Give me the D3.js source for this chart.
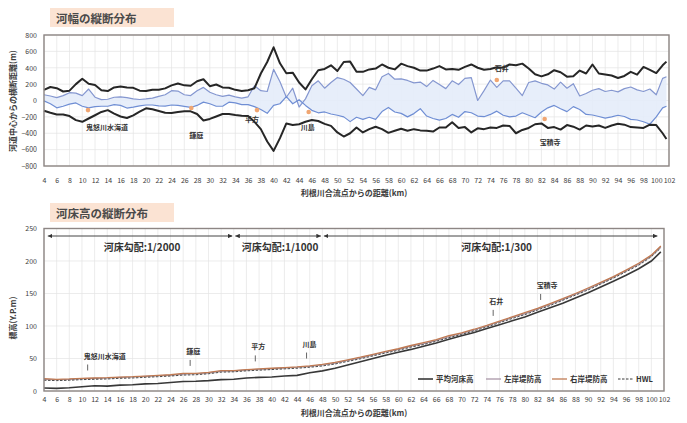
<!DOCTYPE html>
<html>
<head>
<meta charset="utf-8">
<script src="https://cdn.jsdelivr.net/npm/d3@7"></script>
<style>
  body { margin: 0; background: #fff; }
  svg { display: block; }
</style>
</head>
<body>
<svg id="chart" width="687" height="423"></svg>
<script>
// ---------- 河幅の縦断分布 (distance from channel centre, m) ----------
const widthKm = [4,5,6,7,8,9,10,11,12,13,14,15,16,17,18,19,20,21,22,23,24,25,26,27,28,29,30,31,32,33,
  34,35,36,37,38,39,40,41,42,43,44,45,46,47,48,49,50,51,52,53,54,55,56,57,58,59,60,61,62,63,
  64,65,66,67,68,69,70,71,72,73,74,75,76,77,78,79,80,81,82,83,84,85,86,87,88,89,90,91,92,93,
  94,95,96,97,98,99,100,101,101.6];

// outer bank lines (black)
const bankUpper = [130,165,150,110,120,200,265,205,190,125,
  115,160,170,160,155,120,115,132,132,148,
  185,208,185,180,235,260,175,195,160,155,
  130,115,125,150,330,470,650,454,332,340,
  220,135,260,370,385,430,360,470,475,350,
  350,380,390,440,400,380,450,420,400,365,
  365,390,420,380,385,375,410,440,400,375,
  385,405,400,440,430,450,390,320,295,320,
  370,345,291,295,365,330,440,330,318,305,
  275,300,350,315,410,375,335,430,475];
const bankLower = [-125,-150,-170,-170,-190,-240,-260,-220,-180,-140,
  -118,-160,-195,-214,-181,-135,-95,-108,-128,-150,
  -153,-140,-132,-132,-165,-245,-225,-195,-165,-165,
  -178,-185,-190,-260,-350,-500,-615,-460,-280,-300,
  -290,-260,-238,-250,-285,-310,-390,-440,-400,-330,
  -390,-350,-320,-350,-395,-370,-345,-370,-350,-365,
  -370,-380,-330,-330,-265,-335,-325,-390,-340,-350,
  -330,-335,-305,-310,-400,-360,-335,-290,-280,-335,
  -325,-355,-300,-320,-355,-305,-318,-305,-335,-305,
  -285,-295,-325,-330,-335,-295,-300,-400,-470];

// low-water channel lines (blue)
const channelUpper = [70,55,35,60,95,90,60,140,40,10,
  15,40,45,35,20,12,20,30,50,70,
  120,115,70,60,120,160,100,70,50,65,
  45,30,45,180,120,110,380,230,40,150,
  -80,20,180,240,150,220,280,260,220,140,
  60,160,130,290,330,260,265,245,215,225,
  170,245,195,145,240,195,270,280,0,120,
  250,160,240,240,150,60,220,240,210,190,
  140,225,150,205,55,85,125,145,110,125,
  105,145,165,130,110,140,70,270,290];
const channelLower = [-5,-40,-90,-70,-45,-30,-70,-90,-75,-70,
  -70,-50,-60,-92,-80,-65,-55,-55,-65,-68,
  -55,-60,-72,-85,-60,-20,-40,-70,-70,-20,
  -30,-50,-50,-75,-110,-157,-60,-40,47,-40,
  10,-60,-120,-150,-140,-165,-180,-200,-258,-205,
  -230,-205,-230,-135,-85,-140,-157,-200,-160,-100,
  -190,-220,-240,-220,-170,-205,-135,-150,-190,-198,
  -170,-130,-180,-200,-190,-150,-180,-210,-140,-90,
  -60,-100,-136,-75,-110,-170,-177,-195,-215,-200,
  -180,-195,-230,-238,-260,-290,-200,-90,-70];

// ---------- 河床高の縦断分布 (Y.P. m) ----------
const elevKm = [4,6,8,10,12,14,16,18,20,22,24,26,28,30,32,34,36,38,40,42,
  44,46,48,50,52,54,56,58,60,62,64,66,68,70,72,74,76,78,80,82,
  84,86,88,90,92,94,96,98,100,101.5];
const bedElev = [4.5,4,5,6.5,8,7.5,9,9.5,11,11.5,
  13,14.5,15,16,17.5,18,20,21,21.5,23,
  24,28,31,35,40,45,50,55,59.5,64,
  69,74,79.5,85,90,96,102,108,114,121,
  128,135,143,151,160,169,178,188,200,214];
const leftLevee = [18,17.5,18,19,19.5,20,21,21.5,22.5,23.5,
  24.5,26,26.5,28,30.5,31,32.5,33.5,34.5,35.5,
  36.5,38,40,43,47,51,55.5,60,64,69,
  73,78,83.5,88.5,94,100,106.5,113,119,126,
  133,141,149,157,166,175,185,195,208,222];
const rightLevee = [19,18,18.5,19.5,20,20.5,21.5,22,23,24,
  25,27,27,28.5,31.5,31.5,33,34,35,36,
  37,38.5,41,44,48,52,56.5,61,65,70,
  74.5,79,85,89.5,95,101,107.5,114,120.5,127,
  134.5,142,150,158.5,167,176,186,196.5,209,223];
const hwlElev = [16.5,16,16.5,17.5,18,18.5,19.5,20,21,22,
  23,24.5,25,26.5,29,29.5,31,32,33,34,
  35,36.5,38.5,41.5,45.5,49.5,54,58.5,62.5,67.5,
  71.5,76.5,82,87,92.5,98.5,105,111.5,117.5,124.5,
  131.5,139.5,147.5,155.5,164.5,173.5,183.5,193.5,206.5,220];

// gradient sections
const gradBreakKm = [4.6, 34, 48, 101.2];
const gradLabels = ['河床勾配:1/2000', '河床勾配:1/1000', '河床勾配:1/300'];

// stations
const stationNames = ['鬼怒川水海道', '鎌庭', '平方', '川島', '石井', '宝積寺'];
const stationKm = [10.9, 27.1, 37.4, 45.5, 75.0, 82.5];
const stationWidthMark = [-117, -92, -117, -140, 250, -226];

// axis ticks
const xTickKm = [4,6,8,10,12,14,16,18,20,22,24,26,28,30,32,34,36,38,40,42,44,46,48,50,52,
  54,56,58,60,62,64,66,68,70,72,74,76,78,80,82,84,86,88,90,92,94,96,98,100,102];
const widthTicks = [-800,-600,-400,-200,0,200,400,600,800];
const elevTicks = [0,50,100,150,200,250];

const legendNames = ['平均河床高', '左岸堤防高', '右岸堤防高', 'HWL'];

// ================= drawing =================
const FONT = '"Noto Sans CJK JP", "Noto Sans", sans-serif';
const svg = d3.select('#chart').attr('font-family', FONT);
svg.append('rect').attr('width', 687).attr('height', 423).attr('fill', '#fff');

const GRID = '#e4e4e4', FRAME = '#8d8684', TXT = '#3c3c3c';

function titleBox(x, y, label) {
  svg.append('rect').attr('x', x).attr('y', y).attr('width', 124).attr('height', 19)
    .attr('fill', '#fbe3d3');
  svg.append('text').attr('x', x + 6).attr('y', y + 14.5).text(label)
    .attr('font-size', 11.5).attr('font-weight', 700).attr('fill', '#4a4a4a');
}

function panelAxes(x, y, xTicks, yTicks, yTitle, yTitleCenter, xTitleY, xPad) {
  const [x0, x1] = [44, x.range()[1]];
  const [yb, yt] = y.range();
  const g = svg.append('g');
  g.selectAll('.vg').data(xTicks).join('line')
    .attr('x1', d => x(d)).attr('x2', d => x(d)).attr('y1', yt).attr('y2', yb)
    .attr('stroke', GRID).attr('stroke-width', 0.7);
  g.selectAll('.hg').data(yTicks).join('line')
    .attr('x1', x0).attr('x2', x1).attr('y1', d => y(d)).attr('y2', d => y(d))
    .attr('stroke', GRID).attr('stroke-width', 0.7);

  const ax = svg.append('g').attr('transform', `translate(0,${yb})`)
    .call(d3.axisBottom(x).tickValues(xTicks).tickSize(0).tickPadding(xPad).tickFormat(d3.format('d')));
  ax.select('.domain').remove();
  ax.attr('font-size', 7).attr('font-family', FONT);
  ax.selectAll('text').attr('fill', TXT);

  const ay = svg.append('g').attr('transform', `translate(${x0},0)`)
    .call(d3.axisLeft(y).tickValues(yTicks).tickSize(0).tickPadding(7).tickFormat(d3.format('d')));
  ay.select('.domain').remove();
  ay.attr('font-size', 7).attr('font-family', FONT);
  ay.selectAll('text').attr('fill', TXT);

  svg.append('text').attr('transform', `translate(13,${yTitleCenter}) rotate(-90)`)
    .attr('text-anchor', 'middle').attr('dy', '0.35em')
    .attr('font-size', 8).attr('font-weight', 700).attr('fill', TXT).text(yTitle);
  svg.append('text').attr('x', 354).attr('y', xTitleY).attr('text-anchor', 'middle')
    .attr('font-size', 8).attr('font-weight', 700).attr('fill', TXT)
    .text('利根川合流点からの距離(km)');
}

function frame(x, y) {
  svg.append('rect').attr('x', 44).attr('y', y.range()[1])
    .attr('width', x.range()[1] - 44).attr('height', y.range()[0] - y.range()[1])
    .attr('fill', 'none').attr('stroke', FRAME).attr('stroke-width', 1.4);
}

// ---------- upper panel ----------
titleBox(50, 8, '河幅の縦断分布');
const xTop = d3.scaleLinear().domain([4, 102]).range([44, 669]);
const yTop = d3.scaleLinear().domain([-800, 800]).range([166, 35]);
panelAxes(xTop, yTop, xTickKm, widthTicks, '河道中心からの横断距離(m)', 101, 196, 12);

const idx = d3.range(widthKm.length);
svg.append('path').datum(idx)
  .attr('d', d3.area().x(i => xTop(widthKm[i]))
    .y0(i => yTop(channelLower[i])).y1(i => yTop(channelUpper[i])))
  .attr('fill', '#e4ecf9').attr('opacity', 0.9);

const lineTop = vals => d3.line().x(i => xTop(widthKm[i])).y(i => yTop(vals[i]))(idx);
[[channelUpper, '#8597d0'], [channelLower, '#6f8ed4']].forEach(([v, c]) => {
  svg.append('path').attr('d', lineTop(v)).attr('fill', 'none')
    .attr('stroke', c).attr('stroke-width', 1.2).attr('stroke-linejoin', 'round');
});
[bankUpper, bankLower].forEach(v => {
  svg.append('path').attr('d', lineTop(v)).attr('fill', 'none')
    .attr('stroke', '#262626').attr('stroke-width', 2).attr('stroke-linejoin', 'round');
});

// station marks and names
const topLabelLayout = [[-2, 20, 'start'], [-2, 30, 'start'], [2, 12, 'end'],
  [-8, 18, 'start'], [-2, -9, 'start'], [-5, 26, 'start']];
stationNames.forEach((name, i) => {
  const px = xTop(stationKm[i]), py = yTop(stationWidthMark[i]);
  svg.append('circle').attr('cx', px).attr('cy', py).attr('r', 2.3).attr('fill', '#f0a672');
  const [dx, dy, anchor] = topLabelLayout[i];
  svg.append('text').attr('x', px + dx).attr('y', py + dy).attr('text-anchor', anchor)
    .attr('font-size', 7).attr('font-weight', 700).attr('fill', '#333').text(name);
});
frame(xTop, yTop);

// ---------- lower panel ----------
titleBox(50, 203, '河床高の縦断分布');
const xBot = d3.scaleLinear().domain([4, 102]).range([44, 664]);
const yBot = d3.scaleLinear().domain([0, 250]).range([391, 228.5]);
panelAxes(xBot, yBot, xTickKm, elevTicks, '標高(Y.P.m)', 318, 416, 6);

const eIdx = d3.range(elevKm.length);
const lineBot = vals => d3.line().x(i => xBot(elevKm[i])).y(i => yBot(vals[i]))(eIdx);
svg.append('path').attr('d', lineBot(bedElev)).attr('fill', 'none')
  .attr('stroke', '#383838').attr('stroke-width', 1.6);
svg.append('path').attr('d', lineBot(leftLevee)).attr('fill', 'none')
  .attr('stroke', '#a996a8').attr('stroke-width', 1.2);
svg.append('path').attr('d', lineBot(rightLevee)).attr('fill', 'none')
  .attr('stroke', '#c07a52').attr('stroke-width', 1.3);
svg.append('path').attr('d', lineBot(hwlElev)).attr('fill', 'none')
  .attr('stroke', '#3a3a3a').attr('stroke-width', 0.9).attr('stroke-dasharray', '2.5,1.5');

// gradient section arrows
const defs = svg.append('defs');
defs.append('marker').attr('id', 'arw').attr('viewBox', '0 0 6 6')
  .attr('refX', 6).attr('refY', 3).attr('markerWidth', 4.5).attr('markerHeight', 4.5)
  .attr('orient', 'auto-start-reverse')
  .append('path').attr('d', 'M0,0L6,3L0,6Z').attr('fill', '#333');
const arrowY = 236;
gradLabels.forEach((lab, i) => {
  const a = xBot(gradBreakKm[i]) + (i ? 1.5 : 0), b = xBot(gradBreakKm[i + 1]) - 1.5;
  svg.append('line').attr('x1', a).attr('x2', b).attr('y1', arrowY).attr('y2', arrowY)
    .attr('stroke', '#444').attr('stroke-width', 1)
    .attr('marker-start', 'url(#arw)').attr('marker-end', 'url(#arw)');
  svg.append('text').attr('x', (a + b) / 2 + (i === 2 ? 6 : 2)).attr('y', 251)
    .attr('text-anchor', 'middle').attr('font-size', 10).attr('font-weight', 700)
    .attr('fill', '#333').text(lab);
});

// station pointers
const leveeAt = d3.scaleLinear().domain(elevKm).range(leftLevee);
stationNames.forEach((name, i) => {
  const px = xBot(stationKm[i]), py = yBot(leveeAt(stationKm[i]));
  svg.append('line').attr('x1', px).attr('x2', px).attr('y1', py - 14).attr('y2', py - 8)
    .attr('stroke', '#555').attr('stroke-width', 0.9);
  svg.append('text').attr('x', px - 4).attr('y', py - 20)
    .attr('font-size', 7).attr('font-weight', 700).attr('fill', '#333').text(name);
});

// legend
const legendStyle = [
  { c: '#383838', w: 1.6, dash: null },
  { c: '#a996a8', w: 1.3, dash: null },
  { c: '#c07a52', w: 1.3, dash: null },
  { c: '#3a3a3a', w: 1, dash: '2.5,1.5' }];
const legendX = [418, 486, 552, 618];
legendNames.forEach((name, i) => {
  const lx = legendX[i], ly = 379;
  const ln = svg.append('line').attr('x1', lx).attr('x2', lx + 15).attr('y1', ly).attr('y2', ly)
    .attr('stroke', legendStyle[i].c).attr('stroke-width', legendStyle[i].w);
  if (legendStyle[i].dash) ln.attr('stroke-dasharray', legendStyle[i].dash);
  svg.append('text').attr('x', lx + 18).attr('y', ly).attr('dy', '0.35em')
    .attr('font-size', 7.5).attr('font-weight', 700).attr('fill', '#333').text(name);
});
frame(xBot, yBot);
</script>
</body>
</html>
